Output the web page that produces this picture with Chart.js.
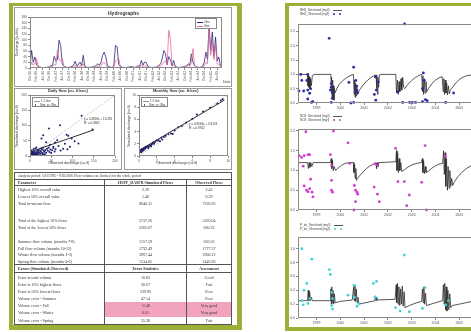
<!DOCTYPE html>
<html>
<head>
<meta charset="utf-8">
<script src="https://cdn.jsdelivr.net/npm/chart.js@4.4.1/dist/chart.umd.min.js"></script>
<style>
html,body{margin:0;padding:0;}
body{width:471px;height:332px;overflow:hidden;position:relative;background:#fff;font-family:"Liberation Sans",Arial,sans-serif;color:#333;}
.panel{position:absolute;box-sizing:border-box;background:#fff;border-style:solid;border-color:#9cb037;}
#leftPanel{left:9px;top:3px;width:233px;height:327px;border-width:3px 5px 5px 4px;}
#rightPanel{left:285px;top:3px;width:240px;height:328px;border-width:3px 0 4px 4px;}
.box{position:absolute;box-sizing:border-box;border:1px solid #9a9a9a;background:#fff;}
canvas{position:absolute;}
.t{position:absolute;white-space:nowrap;line-height:1;}
.vt{position:absolute;white-space:nowrap;line-height:1;transform:translate(-50%,-50%) rotate(-90deg);}
.ttl{font-weight:bold;color:#333;}
.lg{position:absolute;box-sizing:border-box;border:1px solid #888;background:#fff;font-size:3px;line-height:4px;padding:0 1px;}
.lg .row{display:flex;align-items:center;height:4px;white-space:nowrap;}
.sw{display:inline-block;width:6px;height:0;margin-right:1px;}
.dot{display:inline-block;width:2px;height:2px;border-radius:50%;margin:0 1px;}
.ql{position:absolute;font-size:3px;line-height:3.6px;color:#444;}
.ql .row{display:flex;align-items:center;white-space:nowrap;height:3.6px;}
#flowTable{position:absolute;left:14px;top:172px;width:218px;box-sizing:border-box;border:1px solid #555;
  display:grid;grid-template-columns:89px 82px 45px;
  grid-template-rows:7px 6px 7.2px 7.2px 7.2px 9px 7.2px 7.2px 7.5px 6.5px 6.5px 6.5px 6.5px 9px 7.2px 7.2px 7.2px 7.2px 7.2px 7.2px 7.2px;
  font-family:"Liberation Serif","Times New Roman",serif;font-size:4px;color:#333;background:#fff;}
#flowTable .c{box-sizing:border-box;display:flex;align-items:center;white-space:nowrap;overflow:hidden;}
#flowTable .c1{padding-left:3px;}
#flowTable .c2,#flowTable .c3{justify-content:center;border-left:1px solid #555;}
#flowTable .title{grid-column:1 / 4;padding-left:3px;font-size:3.5px;border-bottom:1px solid #555;}
#flowTable .hd{font-weight:bold;border-bottom:1px solid #555;}
#flowTable .hd2{border-top:1px solid #555;}
#flowTable .pink{background:#f2a3c0;}
</style>
</head>
<body>
<div class="panel" id="leftPanel"></div>
<div class="panel" id="rightPanel"></div>

<div class="box" style="left:14px;top:7px;width:218px;height:80px;"></div>
<div class="box" style="left:14px;top:88px;width:108px;height:82px;"></div>
<div class="box" style="left:124px;top:88px;width:108px;height:82px;"></div>

<canvas id="hydro" width="218" height="79" style="left:14px;top:7px;"></canvas>
<canvas id="daily" width="107" height="82" style="left:14px;top:88px;"></canvas>
<canvas id="monthly" width="108" height="82" style="left:124px;top:88px;"></canvas>

<canvas id="nh3" width="200" height="91" style="left:289px;top:20px;"></canvas>
<canvas id="no3" width="200" height="93" style="left:289px;top:125px;"></canvas>
<canvas id="ptot" width="200" height="93" style="left:289px;top:233px;"></canvas>

<!-- hydrograph texts -->
<div class="t ttl" style="left:108px;top:11px;font-size:5px;">Hydrographs</div>
<div class="vt" style="left:18px;top:42px;font-size:3.5px;">Discharge (cu.ft/s)</div>
<div class="t" style="left:223px;top:81px;font-size:3.5px;">Date</div>
<div class="lg" style="left:195px;top:18px;width:22px;height:11px;padding-top:1px;">
  <div class="row"><span class="sw" style="border-top:1px solid #2e2470"></span>Obs.</div>
  <div class="row"><span class="sw" style="border-top:1px solid #e0679f"></span>Sim.</div>
</div>

<!-- daily scatter texts -->
<div class="t ttl" style="left:48px;top:89px;font-size:4px;">Daily flow (cu. ft/sec)</div>
<div class="vt" style="left:18px;top:126px;font-size:3.5px;">Simulated discharge (cu.ft)</div>
<div class="t" style="left:48px;top:162px;font-size:3.5px;">Observed discharge (cu.ft)</div>
<div class="lg" style="left:32px;top:97px;width:27px;height:10px;padding-top:1px;">
  <div class="row"><span class="sw" style="border-top:1px dashed #999"></span>1:1 line</div>
  <div class="row"><span class="dot" style="background:#1c1c6e;margin-right:4px"></span>Sim. vs Obs.</div>
</div>
<div class="t" id="dailyFitText" style="left:84px;top:118px;font-size:3px;line-height:3.6px;"></div>

<!-- monthly scatter texts -->
<div class="t ttl" style="left:153px;top:89px;font-size:4px;">Monthly flow (cu. ft/sec)</div>
<div class="vt" style="left:130px;top:126px;font-size:3.5px;">Simulated discharge (cu.ft)</div>
<div class="t" style="left:156px;top:162px;font-size:3.5px;">Observed discharge (cu.ft)</div>
<div class="lg" style="left:141px;top:97px;width:27px;height:10px;padding-top:1px;">
  <div class="row"><span class="sw" style="border-top:1px dashed #999"></span>1:1 line</div>
  <div class="row"><span class="dot" style="background:#1c1c6e;margin-right:4px"></span>Sim. vs Obs.</div>
</div>
<div class="t" id="monthlyFitText" style="left:189px;top:123px;font-size:3px;line-height:3.6px;"></div>

<!-- water quality legends -->
<div class="ql" style="left:300px;top:9px;">
  <div class="row">NH3_Simulated (mg/l)<span class="sw" style="border-top:1px solid #555;width:9px;margin-left:3px"></span></div>
  <div class="row">NH3_Observed (mg/l)<span class="dot" style="background:#2a2aa8;margin-left:4px"></span><span class="dot" style="background:#2a2aa8;margin-left:3px"></span></div>
</div>
<div class="ql" style="left:300px;top:115px;">
  <div class="row">NO3_Simulated (mg/l)<span class="sw" style="border-top:1px solid #555;width:9px;margin-left:3px"></span></div>
  <div class="row">NO3_Observed (mg/l)<span class="dot" style="background:#d23ad2;margin-left:4px"></span><span class="dot" style="background:#d23ad2;margin-left:3px"></span></div>
</div>
<div class="ql" style="left:300px;top:224px;">
  <div class="row">P_tot_Simulated (mg/l)<span class="sw" style="border-top:1px solid #555;width:9px;margin-left:3px"></span></div>
  <div class="row">P_tot_Observed (mg/l)<span class="dot" style="background:#3fd3d3;margin-left:4px"></span><span class="dot" style="background:#3fd3d3;margin-left:3px"></span></div>
</div>

<div id="flowTable"></div>

<script>
// ---------- Hydrograph: monthly discharge, Oct 1995 - Sep 2005 ----------
const hydroTickLabels = ["Oct-95","Feb-96","Jun-96","Oct-96","Feb-97","Jun-97","Oct-97","Feb-98","Jun-98","Oct-98",
  "Feb-99","Jun-99","Oct-99","Feb-00","Jun-00","Oct-00","Feb-01","Jun-01","Oct-01","Feb-02",
  "Jun-02","Oct-02","Feb-03","Jun-03","Oct-03","Feb-04","Jun-04","Oct-04","Feb-05","Jun-05"];

const obsFlow = [
  2, 62, 20, 39, 12, 5, 3, 2, 1, 1, 2, 3,
  4, 8, 10, 41, 25, 30, 98, 80, 15, 6, 3, 2,
  2, 3, 6, 10, 24, 8, 12, 21, 9, 45, 6, 3,
  2, 2, 3, 4, 6, 8, 15, 10, 20, 45, 56, 39,
  8, 4, 3, 2, 10, 80, 74, 12, 6, 3, 2, 2,
  2, 3, 4, 5, 3, 2, 4, 8, 6, 27, 10, 21,
  20, 6, 3, 2, 2, 3, 2, 6, 10, 15, 35, 62,
  50, 12, 40, 30, 8, 27, 6, 3, 2, 2, 3, 4,
  5, 8, 15, 10, 50, 20, 8, 4, 3, 2, 3, 6,
  20, 56, 30, 150, 60, 127, 40, 109, 25, 39, 10, 4
];
const simFlow = [
  1, 20, 10, 15, 33, 8, 3, 2, 1, 1, 1, 2,
  2, 3, 5, 12, 10, 62, 30, 25, 33, 8, 3, 2,
  1, 2, 3, 5, 8, 4, 6, 8, 5, 15, 4, 2,
  1, 1, 2, 3, 3, 4, 6, 5, 8, 18, 20, 12,
  4, 2, 2, 1, 5, 25, 30, 33, 5, 2, 1, 1,
  1, 2, 2, 3, 2, 1, 2, 4, 3, 10, 5, 8,
  6, 3, 2, 1, 1, 2, 1, 3, 5, 8, 12, 20,
  25, 10, 133, 103, 6, 12, 4, 2, 1, 1, 2, 2,
  3, 4, 8, 6, 20, 68, 10, 3, 2, 1, 2, 3,
  8, 20, 15, 140, 45, 90, 30, 80, 15, 12, 5, 2
];

// ---------- Scatter: simulated vs observed discharge ----------
const dailyPairs = [
  [2,3],[3,1],[5,4],[4,8],[6,2],[8,6],[7,10],[10,5],[12,8],[9,12],[11,15],[14,10],[15,6],[13,3],
  [16,12],[18,9],[20,14],[17,18],[22,11],[24,7],[21,20],[25,16],[27,12],[28,22],[30,9],[26,25],
  [32,18],[34,14],[31,27],[36,20],[38,11],[40,24],[35,6],[42,17],[44,28],[46,13],[48,21],[19,4],
  [23,2],[29,5],[33,3],[6,14],[3,18],[8,22],[12,25],[15,28],[5,9],[9,1],[1,6],[2,11],[52,19],
  [55,26],[50,10],[58,15],[60,22],
  [121.6,132],[70.6,101],[44.7,90],[86,70],[90,66],[98,57],[114,41],[94,30],[59,44],[67,33],
  [27,57],[31,68],[47,37],[55,30],[147,87],[78,24],[64,52],[82,40],[105,48],[38,45],[72,18],[88,22]
];
const dailyFit = {slope: 0.4826, intercept: 13.235, r2: 0.4962};

const monthlyPairs = [
  [0.1,0.9],[0.2,1.0],[0.3,1.1],[0.4,1.0],[0.5,1.2],[0.6,1.3],[0.7,1.2],[0.8,1.4],[0.9,1.5],[1.0,1.6],
  [1.1,1.5],[1.2,1.8],[1.3,1.7],[1.4,1.9],[1.5,2.0],[0.35,0.8],[0.55,1.0],[0.75,1.5],[1.6,2.2],[1.8,2.3],
  [2.0,2.5],[2.2,2.6],[2.5,3.0],[2.8,3.1],[3.0,3.3],[3.3,3.6],[3.6,3.7],[4.0,4.2],[4.4,4.7],[4.8,4.9],
  [5.3,5.5],[6.0,6.1],[6.5,6.8],[7.2,7.3],[8.0,7.9],[8.8,8.6],[9.2,9.1],[9.4,9.3],[0.15,0.7],[0.25,0.6],
  [0.45,0.9],[1.05,1.3],[1.35,1.6],[1.7,2.0],[2.35,2.4],[2.6,2.7],[3.8,3.6]
];
const monthlyFit = {slope: 0.8594, intercept: 0.9124, r2: 0.9912};

// ---------- Water quality series (decimal year, mg/l) ----------
const nh3Simulated = [
  [1998.22,1.0],[1998.62,1.0],[1998.64,0.6],[1998.66,0.95],[1998.68,0.55],[1998.70,0.9],[1998.72,0.5],
  [1998.75,0.85],[1998.78,0.6],[1998.82,0.92],[1998.86,0.98],[1998.90,1.0],[1999.60,1.0],
  [1999.62,0.4],[1999.63,0.9],[1999.65,0.2],[1999.67,0.8],[1999.69,0.15],[1999.71,0.6],[1999.73,0.1],
  [1999.75,0.5],[1999.78,0.35],[1999.85,0.5],[1999.95,0.65],[2000.10,0.78],[2000.25,0.88],[2000.40,0.95],
  [2000.55,1.0],[2000.57,1.0],[2000.58,0.3],[2000.60,0.8],[2000.62,0.2],[2000.64,0.7],[2000.66,0.25],
  [2000.69,0.6],[2000.72,0.3],[2000.80,0.45],[2000.95,0.62],[2001.10,0.76],[2001.25,0.87],[2001.40,0.95],
  [2001.50,0.98],[2001.52,0.5],[2001.54,0.95],[2001.56,0.3],[2001.58,0.9],[2001.61,0.55],[2001.64,0.98],
  [2001.67,1.0],[2002.33,1.0],[2002.36,0.35],[2002.40,0.8],[2002.43,0.3],[2002.47,0.75],[2002.50,0.4],
  [2002.55,0.85],[2002.58,0.45],[2002.62,0.9],[2002.66,0.55],[2002.70,0.5],[2002.85,0.66],[2003.00,0.79],
  [2003.15,0.89],[2003.30,0.96],[2003.42,1.0],[2003.45,0.4],[2003.47,0.95],[2003.50,0.3],[2003.53,0.85],
  [2003.56,0.35],[2003.60,0.75],[2003.63,0.4],[2003.72,0.52],[2003.85,0.68],[2004.00,0.8],[2004.15,0.88],
  [2004.28,0.92],[2004.32,0.4],[2004.35,0.85],[2004.38,0.3],[2004.41,0.8],[2004.44,0.35],[2004.47,0.7],
  [2004.50,0.28],[2004.54,0.6],[2004.58,0.32],[2004.62,0.45],[2004.72,0.55],[2004.85,0.7],[2005.00,0.82],
  [2005.15,0.9],[2005.30,0.95],[2005.50,0.98],[2005.70,1.0]
];
const nh3Observed = [
  [1998.34,1.0],[1998.38,0.79],[1998.46,0.42],[1998.26,0.42],[1998.59,0.79],[1998.63,1.0],[1998.63,0.45],
  [1998.71,0.34],[1998.63,0.14],[1998.79,0.02],[1998.84,0.05],[1998.75,0.5],
  [1999.53,2.26],[1999.62,0.68],[1999.62,0.55],[1999.66,0.36],[1999.66,0.16],[1999.62,0.02],[1999.58,0.45],
  [2000.56,1.25],[2000.36,0.72],[2000.65,0.79],[2000.69,0.45],[2000.69,0.59],[2000.73,0.36],[2000.56,0.02],[2000.44,0.0],
  [2001.47,0.91],[2001.43,0.3],[2001.51,0.45],[2001.49,0.1],[2001.59,0.74],
  [2002.42,0.39],[2002.62,0.02],[2002.70,2.76],[2002.91,0.02],[2003.03,0.02],[2003.16,0.02],
  [2003.45,0.05],[2003.49,1.05],[2003.57,0.12],[2003.65,0.08],[2003.45,0.5],[2003.53,0.79],
  [2004.43,0.02],[2004.76,0.35]
];

const no3Simulated = [
  [1998.22,1.2],[1998.62,1.2],[1998.66,1.05],[1998.69,1.2],[1998.72,1.08],[1998.76,1.2],[1998.80,1.1],
  [1998.86,1.2],[1999.58,1.2],[1999.62,1.3],[1999.64,1.05],[1999.67,1.25],[1999.70,1.0],[1999.74,1.1],
  [1999.80,1.0],[1999.90,1.06],[2000.05,1.13],[2000.20,1.18],[2000.40,1.2],[2000.55,1.2],
  [2000.57,0.95],[2000.60,1.15],[2000.62,0.8],[2000.65,1.05],[2000.68,0.75],[2000.72,0.8],
  [2000.80,0.86],[2000.95,0.96],[2001.10,1.05],[2001.25,1.12],[2001.40,1.16],[2001.50,1.18],
  [2001.52,1.05],[2001.55,1.2],[2001.58,1.1],[2001.62,1.2],[2002.33,1.22],
  [2002.36,1.5],[2002.38,1.0],[2002.41,1.45],[2002.44,0.95],[2002.47,1.3],[2002.50,1.0],[2002.54,1.2],
  [2002.58,0.98],[2002.70,1.02],[2002.85,1.09],[2003.00,1.14],[2003.20,1.18],[2003.40,1.2],
  [2003.45,1.3],[2003.47,0.95],[2003.50,1.25],[2003.53,0.92],[2003.57,1.1],[2003.60,0.95],
  [2003.70,0.98],[2003.85,1.06],[2004.00,1.12],[2004.15,1.16],[2004.30,1.18],
  [2004.34,1.5],[2004.37,0.9],[2004.40,1.45],[2004.43,0.6],[2004.46,1.3],[2004.50,0.5],[2004.53,1.1],
  [2004.57,0.55],[2004.60,1.0],[2004.64,0.6],[2004.68,0.8],[2004.72,0.62],
  [2004.80,0.72],[2004.95,0.85],[2005.10,0.95],[2005.30,1.05],[2005.50,1.12],[2005.70,1.16]
];
const no3Observed = [
  [1998.27,1.375],[1998.37,1.33],[1998.48,1.375],[1998.55,1.98],[1998.64,1.4],[1998.71,1.4],[1998.44,1.11],
  [1998.48,0.61],[1998.58,0.5],[1998.64,0.46],[1998.71,0.54],[1998.75,0.78],[1998.85,0.33],[1998.81,0.45],
  [1999.58,1.4],[1999.63,1.13],[1999.71,2.0],[1999.63,0.75],[1999.63,0.5],[1999.67,0.45],
  [2000.32,1.7],[2000.40,1.18],[2000.59,0.62],[2000.64,0.5],[2000.70,0.45],[2000.64,0.21],[2000.73,0.4],[2000.57,0.0],
  [2001.46,1.17],[2001.56,1.13],[2001.42,0.58],[2001.56,0.4],[2001.64,0.21],
  [2002.32,1.56],[2002.42,0.72],[2002.69,0.72],[2002.90,0.38],[2002.79,0.11],
  [2003.42,0.7],[2003.56,1.63],[2003.62,0.0],[2004.41,1.36]
];

const pSimulated = [
  [1998.22,0.25],[1998.62,0.25],[1998.65,0.4],[1998.68,0.25],[1998.71,0.38],[1998.74,0.25],[1998.78,0.3],
  [1998.82,0.25],[1999.58,0.25],[1999.60,0.42],[1999.62,0.2],[1999.64,0.45],[1999.66,0.22],[1999.69,0.4],
  [1999.72,0.2],[1999.75,0.35],[1999.78,0.22],[2000.00,0.24],[2000.50,0.26],
  [2000.56,0.45],[2000.58,0.25],[2000.61,0.48],[2000.64,0.24],[2000.67,0.42],[2000.70,0.22],[2000.74,0.3],
  [2000.78,0.2],[2001.45,0.25],[2001.48,0.32],[2001.50,0.25],[2001.53,0.3],[2001.56,0.26],[2002.30,0.27],
  [2002.35,0.48],[2002.37,0.22],[2002.40,0.5],[2002.43,0.2],[2002.46,0.45],[2002.50,0.18],[2002.53,0.42],
  [2002.57,0.2],[2002.60,0.46],[2002.64,0.17],[2002.68,0.38],[2002.72,0.15],[2002.90,0.18],[2003.20,0.22],
  [2003.42,0.24],[2003.45,0.42],[2003.48,0.22],[2003.51,0.45],[2003.54,0.2],[2003.58,0.36],[2003.62,0.18],
  [2003.90,0.21],[2004.30,0.25],[2004.33,0.48],[2004.36,0.2],[2004.39,0.5],[2004.42,0.12],[2004.45,0.45],
  [2004.48,0.1],[2004.52,0.4],[2004.56,0.12],[2004.60,0.35],[2004.64,0.15],[2004.70,0.18],
  [2005.00,0.2],[2005.40,0.23],[2005.70,0.25]
];
const pObserved = [
  [1998.38,1.0],[1998.47,0.4],[1998.59,0.5],[1998.80,0.85],[1998.40,0.25],[1998.44,0.19],[1998.64,0.21],
  [1998.71,0.28],[1999.54,0.7],[1999.58,0.63],[1999.63,0.37],[1999.67,0.28],[1999.63,0.18],[1999.67,0.13],
  [2000.32,0.33],[2000.57,0.47],[2000.59,0.3],[2000.70,0.17],[2000.77,0.21],
  [2001.39,0.5],[2001.52,0.53],[2001.46,0.3],
  [2002.32,0.15],[2002.51,0.1],[2002.69,0.91],[2002.90,0.09],
  [2003.45,0.14],[2003.56,0.44],[2004.43,0.19],[2004.54,0.25]
];

// ---------- Flow statistics table ----------
const tableTitle = "Analysis period: 10/1/1995 - 9/30/2005   Flow volumes are (inches) for the whole period";
const tableHeader = ["Parameter", "HSPF_DASPR Simulated Flows", "Observed Flows"];
const paramNames = ["Highest 10% overall value","Lowest 50% overall value","Total in-stream flow","",
  "Total of the highest 10% flows","Total of the lowest 50% flows","",
  "Summer flow volume (months 7-9)","Fall flow volume (months 10-12)","Winter flow volume (months 1-3)","Spring flow volume (months 4-6)"];
const simValues = ["2.39","1.46","8040.31","","5737.26","2205.67","","1157.59","1732.49","3967.44","1534.05"];
const obsValues = ["2.42","0.39","7320.93","","5220.04","660.32","","630.56","1777.37","3900.12","2446.20"];
const errorHeader = ["Errors (Simulated-Observed)", "Error Statistics", "Assessment"];
const errorNames = ["Error in total volume","Error in 10% highest flows","Error in 50% lowest flows",
  "Volume error - Summer","Volume error - Fall","Volume error - Winter","Volume error - Spring"];
const errorStats = ["10.83","20.67","239.96","47.14","-2.48","0.61","35.38"];
const assessments = ["Good","Fair","Poor","Poor","Very good","Very good","Fair"];

// ---------- Table builder ----------
const tbl = document.getElementById('flowTable');
function cell(text, cls){ const d = document.createElement('div'); d.className = 'c ' + cls; d.textContent = text; tbl.appendChild(d); }
cell(tableTitle, 'title');
tableHeader.forEach((h, i) => cell(h, 'hd c' + (i + 1)));
paramNames.forEach((p, i) => { cell(p, 'c1'); cell(simValues[i], 'c2'); cell(obsValues[i], 'c3'); });
errorHeader.forEach((h, i) => cell(h, 'hd hd2 c' + (i + 1)));
errorNames.forEach((e, i) => {
  const hi = assessments[i] === 'Very good' ? ' pink' : '';
  cell(e, 'c1'); cell(errorStats[i], 'c2' + hi); cell(assessments[i], 'c3' + hi);
});

document.getElementById('dailyFitText').innerHTML =
  'y = ' + dailyFit.slope + 'x + ' + dailyFit.intercept + '<br>R² = ' + dailyFit.r2;
document.getElementById('monthlyFitText').innerHTML =
  'y = ' + monthlyFit.slope + 'x + ' + monthlyFit.intercept + '<br>R² = ' + monthlyFit.r2;

// ---------- Chart setup ----------
Chart.defaults.animation = false;
Chart.defaults.responsive = false;
Chart.defaults.devicePixelRatio = 1;
Chart.defaults.plugins.legend.display = false;
Chart.defaults.plugins.tooltip.enabled = false;
Chart.defaults.font.family = '"Liberation Sans", Arial, sans-serif';
Chart.defaults.color = '#555';

// box around the plotting area
Chart.register({
  id: 'frame',
  afterDatasetsDraw(chart) {
    const a = chart.chartArea, ctx = chart.ctx;
    ctx.save();
    ctx.strokeStyle = '#8a8a8a';
    ctx.lineWidth = 1;
    ctx.strokeRect(Math.round(a.left) + 0.5, Math.round(a.top) + 0.5, Math.round(a.width) - 1, Math.round(a.height) - 1);
    ctx.restore();
  }
});

const tickGrid = {display: true, drawOnChartArea: false, drawTicks: true, tickLength: 2, color: '#8a8a8a'};

function linearAxis(min, max, step, size, fmt, fixW, fixH, extra) {
  const ax = {
    type: 'linear', min, max,
    grid: tickGrid,
    border: {display: false},
    ticks: Object.assign({stepSize: step, includeBounds: false, autoSkip: false, maxRotation: 0,
      font: {size: size}, padding: 1, callback: fmt}, extra || {})
  };
  if (fixW) ax.afterFit = s => { s.width = fixW; };
  if (fixH) ax.afterFit = s => { s.height = fixH; };
  return ax;
}

// Hydrograph
new Chart(document.getElementById('hydro'), {
  type: 'line',
  data: {datasets: [
    {label: 'Sim.', data: simFlow.map((v, i) => ({x: i, y: v})), borderColor: '#e0679f', borderWidth: 0.8, pointRadius: 0, order: 0},
    {label: 'Obs.', data: obsFlow.map((v, i) => ({x: i, y: v})), borderColor: '#2e2470', borderWidth: 0.8, pointRadius: 0, order: 1}
  ]},
  options: {
    layout: {padding: {top: 10, right: 10, left: 0, bottom: 0}},
    scales: {
      x: linearAxis(0, 119, 4, 3.3, v => hydroTickLabels[v / 4] ?? '', null, 18, {minRotation: 90, maxRotation: 90}),
      y: linearAxis(0, 180, 20, 3.3, v => String(v), 16, null)
    }
  }
});

function fitLine(fit, x0, x1) { return [[x0, fit.slope * x0 + fit.intercept], [x1, fit.slope * x1 + fit.intercept]]; }

function flowScatter(id, pairs, fit, fitEnd, maxV, step, yW, padR) {
  new Chart(document.getElementById(id), {
    type: 'scatter',
    data: {datasets: [
      {data: pairs, pointRadius: 1, pointBackgroundColor: '#1c1c6e', pointBorderWidth: 0, order: 1},
      {data: fitLine(fit, 0, fitEnd), showLine: true, borderColor: '#333', borderWidth: 1, pointRadius: 0, order: 0},
      {data: [[0, 0], [maxV, maxV]], showLine: true, borderColor: '#b5b5b5', borderWidth: 0.8, borderDash: [2, 1.5], pointRadius: 0, order: 2}
    ]},
    options: {
      layout: {padding: {top: 7, right: padR, left: 0, bottom: 0}},
      scales: {
        x: linearAxis(0, maxV, step, 3.3, v => String(v), null, 14),
        y: linearAxis(0, maxV, step, 3.3, v => String(v), yW, null)
      }
    }
  });
}
flowScatter('daily', dailyPairs, dailyFit, 150, 200, 50, 16, 6);
flowScatter('monthly', monthlyPairs, monthlyFit, 9.6, 10, 2, 15, 4);

// Water quality time series
function qualityChart(id, sim, obs, color, yMax, yStep) {
  new Chart(document.getElementById(id), {
    type: 'scatter',
    data: {datasets: [
      {data: obs, pointRadius: 1.4, pointBackgroundColor: color, pointBorderWidth: 0, clip: false, order: 0},
      {data: sim, showLine: true, borderColor: '#2b2b2b', borderWidth: 0.8, pointRadius: 0, order: 1}
    ]},
    options: {
      layout: {padding: {top: 3, right: 0, left: 0, bottom: 0}},
      scales: {
        x: linearAxis(1998.22, 2006.08, 1, 3.5, v => String(v), null, 8),
        y: linearAxis(0, yMax, yStep, 3.5, v => v.toFixed(1), 9, null)
      }
    }
  });
}
qualityChart('nh3', nh3Simulated, nh3Observed, '#2a2aa8', 2.76, 0.5);
qualityChart('no3', no3Simulated, no3Observed, '#d23ad2', 2.05, 0.5);
qualityChart('ptot', pSimulated, pObserved, '#3fd3d3', 1.17, 0.2);
</script>
</body>
</html>
